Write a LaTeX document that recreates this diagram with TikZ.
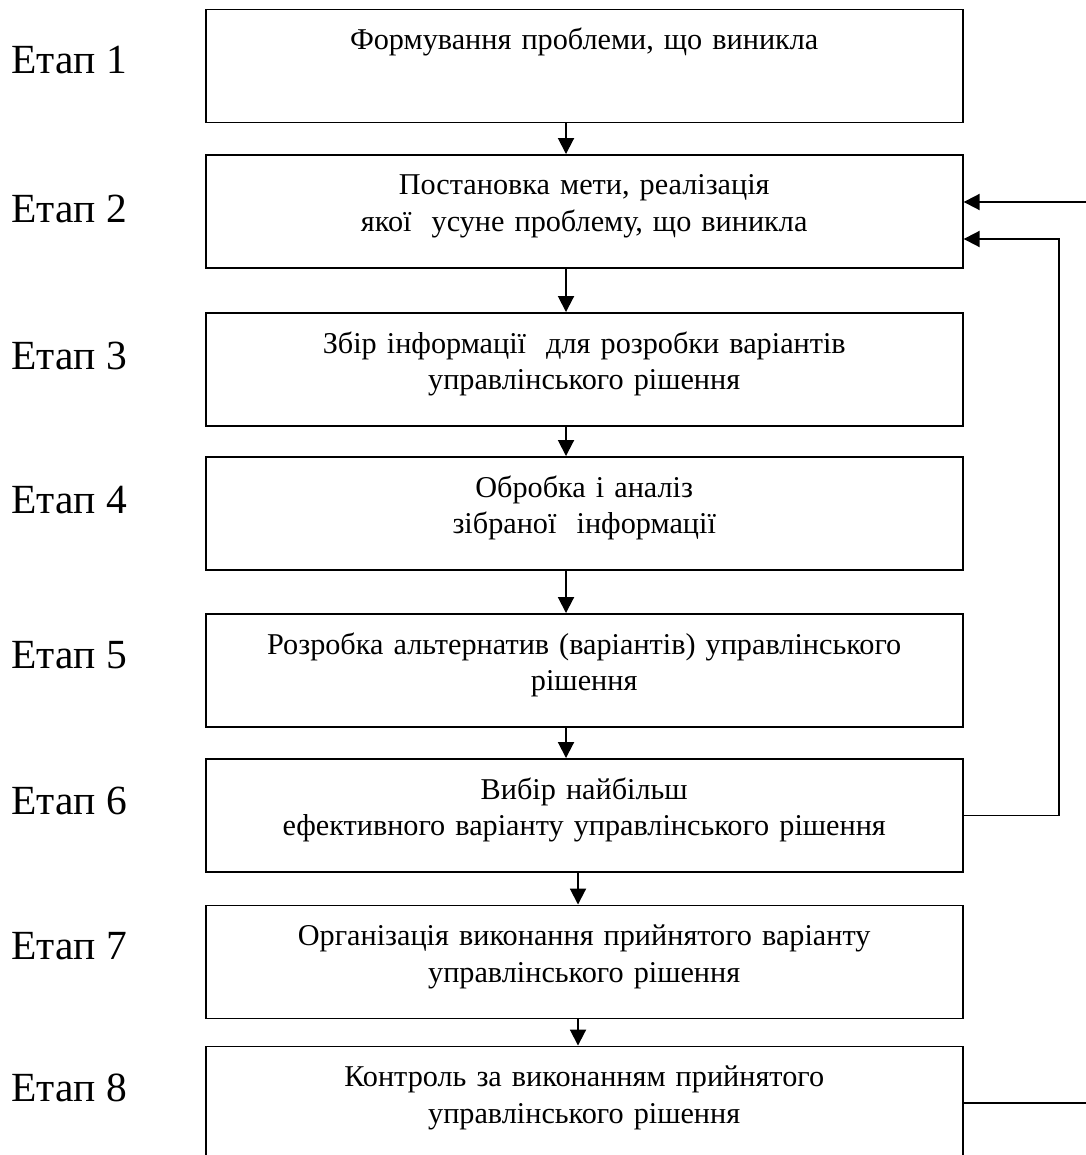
\documentclass[tikz,border=0pt]{standalone}
\usepackage{fontspec}
\setmainfont{Liberation Serif}
\usetikzlibrary{positioning,arrows.meta}

\begin{document}
\begin{tikzpicture}[%
>={Triangle[length=0.32cm,width=0.32cm]},
line width=1.1pt,
on grid,
stage/.style={rectangle, draw, text width=15cm, inner xsep=0.07cm, inner ysep=0pt,
  text height=0.8cm, text depth=1.46cm, align=center, font=\fontsize{17.2}{21}\selectfont},
etap/.style={font=\fontsize{23.6}{28}\selectfont}
]
\useasboundingbox (0,0) rectangle (21.72,-23.1);
\node[stage] (1) at (11.684,-1.32) {Формування проблеми, що виникла};
\node[stage] (2) [below=2.91cm of 1] {Постановка мети, реалізація\\якої~ усуне проблему, що виникла};
\node[stage] (3) [below=3.16cm of 2] {Збір інформації~ для розробки варіантів\\управлінського рішення};
\node[stage] (4) [below=2.88cm of 3] {Обробка і аналіз\\зібраної~ інформації};
\node[stage] (5) [below=3.14cm of 4] {Розробка альтернатив (варіантів) управлінського\\рішення};
\node[stage] (6) [below=2.90cm of 5] {Вибір найбільш\\ефективного варіанту управлінського рішення};
\node[stage] (7) [below=2.93cm of 6] {Організація виконання прийнятого варіанту\\управлінського рішення};
\node[stage] (8) [below=2.82cm of 7] {Контроль за виконанням прийнятого\\управлінського рішення};
% etapy
\node[etap] (e1) [left=10.3cm of 1, yshift=0.12cm] {Етап 1};
\node[etap] (e2) [left=10.3cm of 2, yshift=0.05cm] {Етап 2};
\node[etap] (e3) [left=10.3cm of 3, yshift=0.28cm] {Етап 3};
\node[etap] (e4) [left=10.3cm of 4, yshift=0.26cm] {Етап 4};
\node[etap] (e5) [left=10.3cm of 5, yshift=0.3cm] {Етап 5};
\node[etap] (e6) [left=10.3cm of 6, yshift=0.3cm] {Етап 6};
\node[etap] (e7) [left=10.3cm of 7, yshift=0.32cm] {Етап 7};
\node[etap] (e8) [left=10.3cm of 8, yshift=0.3cm] {Етап 8};
\coordinate (in) at ([xshift=2.5cm, yshift=0.19cm]2.east);
\coordinate (out) at ([xshift=2.5cm]8.east);
\draw[->] ([xshift=-0.364cm]1.south) -- ([xshift=-0.364cm]2.north);
\draw[->] ([xshift=-0.364cm]2.south) -- ([xshift=-0.364cm]3.north);
\draw[->] ([xshift=-0.364cm]3.south) -- ([xshift=-0.364cm]4.north);
\draw[->] ([xshift=-0.364cm]4.south) -- ([xshift=-0.364cm]5.north);
\draw[->] ([xshift=-0.364cm]5.south) -- ([xshift=-0.364cm]6.north);
\draw[->] ([xshift=-0.124cm]6.south) -- ([xshift=-0.124cm]7.north);
\draw[->] ([xshift=-0.124cm]7.south) -- ([xshift=-0.124cm]8.north);
\draw[->] (6.east) -- ++(1.906,0) |- ([yshift=-0.55cm]2.east);
\draw[->] (in) -- (in -| 2.east);
\draw (8.east) -- (out);
\end{tikzpicture}
\end{document}
